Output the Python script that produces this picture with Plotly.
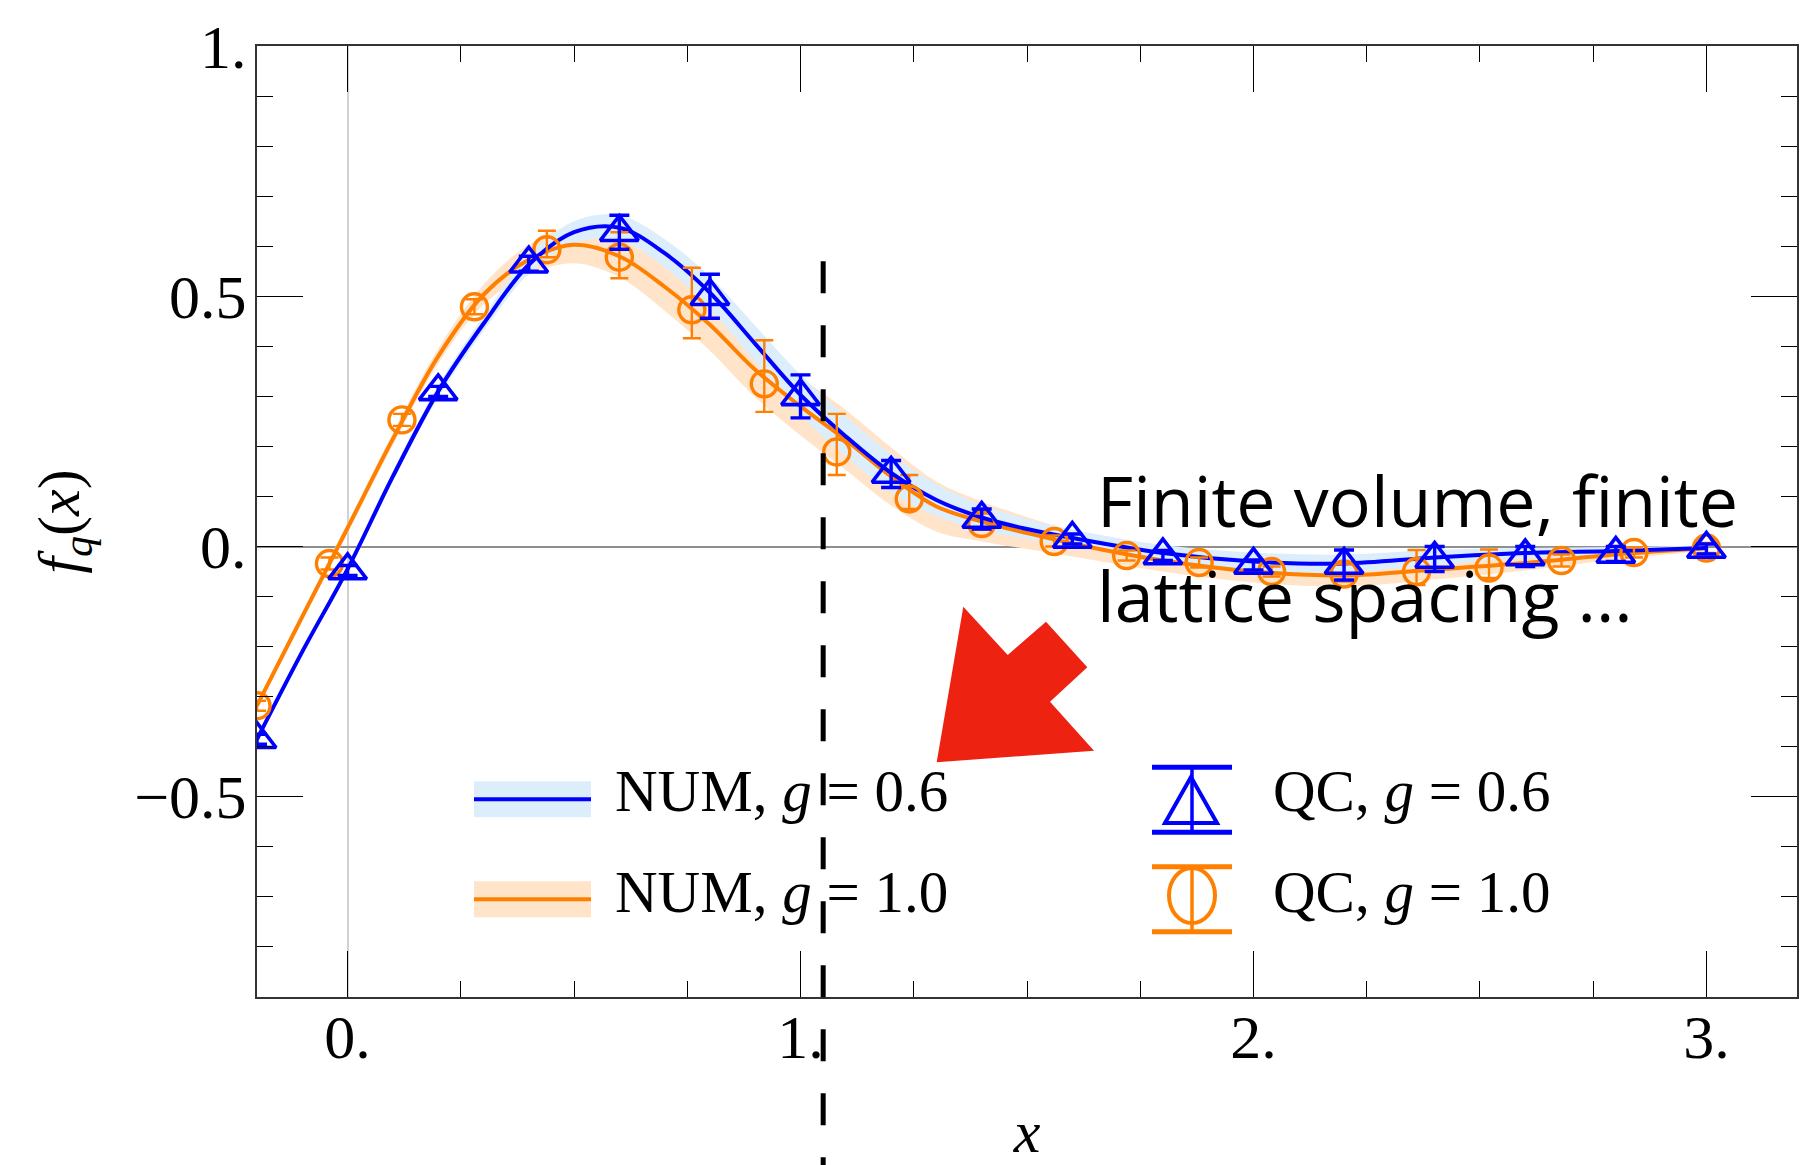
import plotly.graph_objects as go

# ---------------- data ----------------
# NUM curves (numerical result) with uncertainty bands
num_x = [-0.2, -0.1, 0.0, 0.1, 0.2, 0.3, 0.4, 0.5, 0.6, 0.7, 0.8, 0.9, 1.0, 1.1, 1.2, 1.3,
         1.4, 1.5, 1.6, 1.8, 2.0, 2.2, 2.4, 2.6, 2.8, 3.0]
num06_y = [-0.385, -0.21, -0.045, 0.14, 0.31, 0.445, 0.563, 0.628, 0.637, 0.586, 0.507, 0.405,
           0.303, 0.22, 0.147, 0.093, 0.058, 0.035, 0.017, -0.013, -0.03, -0.034, -0.022,
           -0.013, -0.009, -0.003]
num06_hw = [0.005, 0.006, 0.008, 0.01, 0.012, 0.015, 0.018, 0.022, 0.025, 0.028, 0.032, 0.036,
            0.04, 0.04, 0.038, 0.032, 0.025, 0.02, 0.017, 0.016, 0.018, 0.018, 0.015, 0.01,
            0.008, 0.005]
num10_y = [-0.318, -0.14, 0.037, 0.215, 0.38, 0.503, 0.573, 0.603, 0.58, 0.519, 0.443, 0.353,
           0.28, 0.213, 0.14, 0.08, 0.05, 0.027, 0.006, -0.028, -0.05, -0.058, -0.046,
           -0.033, -0.016, -0.003]
num10_hw = [0.008, 0.009, 0.01, 0.012, 0.015, 0.02, 0.03, 0.037, 0.042, 0.048, 0.052, 0.055,
            0.058, 0.06, 0.058, 0.05, 0.04, 0.032, 0.026, 0.022, 0.022, 0.022, 0.02, 0.015,
            0.01, 0.006]

# QC points, g = 0.6
qc06_x = [-0.2, 0.0, 0.2, 0.4, 0.6, 0.8, 1.0, 1.2, 1.4, 1.6, 1.8, 2.0, 2.2, 2.4, 2.6, 2.8, 3.0]
qc06_y = [-0.385, -0.048, 0.31, 0.565, 0.628, 0.50, 0.30, 0.145, 0.055, 0.015, -0.018, -0.037,
          -0.037, -0.025, -0.02, -0.015, -0.005]
qc06_err = [0.01, 0.01, 0.01, 0.015, 0.034, 0.044, 0.043, 0.027, 0.02, 0.01, 0.01, 0.01, 0.03,
            0.025, 0.02, 0.015, 0.01]

# QC points, g = 1.0
qc10_x = [-0.2, -0.04, 0.12, 0.28, 0.44, 0.6, 0.76, 0.92, 1.08, 1.24, 1.4, 1.56, 1.72, 1.88,
          2.04, 2.2, 2.36, 2.52, 2.68, 2.84, 3.0]
qc10_y = [-0.318, -0.034, 0.253, 0.479, 0.593, 0.578, 0.473, 0.325, 0.189, 0.095, 0.046, 0.010,
          -0.018, -0.032, -0.050, -0.055, -0.050, -0.043, -0.028, -0.012, -0.003]
qc10_err_plus = [0.01, 0.012, 0.012, 0.015, 0.038, 0.05, 0.084, 0.087, 0.076, 0.048, 0.02,
                 0.012, 0.01, 0.01, 0.01, 0.02, 0.043, 0.037, 0.012, 0.01, 0.01]
qc10_err_minus = [0.01, 0.012, 0.012, 0.015, 0.015, 0.042, 0.057, 0.056, 0.046, 0.02, 0.012,
                  0.01, 0.01, 0.01, 0.01, 0.015, 0.027, 0.02, 0.012, 0.01, 0.01]

# axes ticks
x_tickvals = [0, 1, 2, 3]
x_ticktext = ["0.", "1.", "2.", "3."]
y_tickvals = [-0.5, 0, 0.5, 1.0]
y_ticktext = ["\u22120.5", "0.", "0.5", "1."]

legend_labels = ["NUM, <i>g</i> = 0.6", "NUM, <i>g</i> = 1.0",
                 "QC, <i>g</i> = 0.6", "QC, <i>g</i> = 1.0"]
note_lines = ["Finite volume, finite", "lattice spacing ..."]
cut_x = 1.05      # dashed vertical marker
cut_top = 0.57

# ---------------- styling ----------------
BLUE = "#0000FF"
ORANGE = "#FF8000"
BLUE_BAND = "#DCEDFC"
ORANGE_BAND = "#FFE4CA"
SERIF = "Liberation Serif"

OFF = 8                      # page body margin in the browser
WIN_W, WIN_H = 1808, 1165
W, H = WIN_W - OFF, WIN_H - OFF
# plot area in window pixels
L, R, T, B = 257, 1797, 46, 997
ML, MT = L - OFF, T - OFF
MR, MB = (OFF + W) - R, (OFF + H) - B
XR = [-0.2, 3.2]
YR = [-0.9, 1.0]


def px(xp):
    return (xp - L) / (R - L)


def py(yp):
    return (B - yp) / (B - T)


fig = go.Figure()

# bands
o_lo = [c - h for c, h in zip(num10_y, num10_hw)]
o_hi = [c + h for c, h in zip(num10_y, num10_hw)]
b_lo = [c - h for c, h in zip(num06_y, num06_hw)]
b_hi = [c + h for c, h in zip(num06_y, num06_hw)]

fig.add_trace(go.Scatter(x=num_x, y=o_lo, mode="lines", line=dict(width=0, shape="spline"),
                         showlegend=False, hoverinfo="skip"))
fig.add_trace(go.Scatter(x=num_x, y=o_hi, mode="lines", line=dict(width=0, shape="spline"),
                         fill="tonexty", fillcolor=ORANGE_BAND, showlegend=False, hoverinfo="skip"))
fig.add_trace(go.Scatter(x=num_x, y=b_lo, mode="lines", line=dict(width=0, shape="spline"),
                         showlegend=False, hoverinfo="skip"))
fig.add_trace(go.Scatter(x=num_x, y=b_hi, mode="lines", line=dict(width=0, shape="spline"),
                         fill="tonexty", fillcolor=BLUE_BAND, showlegend=False, hoverinfo="skip"))

# central lines
fig.add_trace(go.Scatter(x=num_x, y=num10_y, mode="lines", name="NUM, g = 1.0",
                         line=dict(color=ORANGE, width=4, shape="spline"), showlegend=False))
fig.add_trace(go.Scatter(x=num_x, y=num06_y, mode="lines", name="NUM, g = 0.6",
                         line=dict(color=BLUE, width=4, shape="spline"), showlegend=False))

# QC points
fig.add_trace(go.Scatter(
    x=qc10_x, y=qc10_y, mode="markers", name="QC, g = 1.0", showlegend=False,
    marker=dict(symbol="circle-open", size=26, color=ORANGE, line=dict(width=3.4, color=ORANGE)),
    error_y=dict(type="data", symmetric=False, array=qc10_err_plus, arrayminus=qc10_err_minus,
                 color=ORANGE, thickness=2.4, width=9)))
fig.add_trace(go.Scatter(
    x=qc06_x, y=qc06_y, mode="markers", name="QC, g = 0.6", showlegend=False,
    marker=dict(symbol="triangle-up-open", size=33, color=BLUE, line=dict(width=3.6, color=BLUE)),
    error_y=dict(type="data", array=qc06_err, color=BLUE, thickness=3.4, width=10)))

shapes = []
# dashed vertical marker line (extends below the frame)
xc = (cut_x - XR[0]) / (XR[1] - XR[0])
yc = (cut_top - YR[0]) / (YR[1] - YR[0])
shapes.append(dict(type="line", xref="paper", yref="paper", x0=xc, x1=xc, y0=yc, y1=py(WIN_H + 5),
                   line=dict(color="black", width=5, dash="32px,32px"), layer="above"))

# red arrow
arrow_px = [(936.7, 762.3), (963.3, 606.7), (1007.7, 655.0), (1046.0, 621.7),
            (1087.3, 667.3), (1050.0, 701.7), (1094.0, 750.7)]
path = "M " + " L ".join(f"{px(a):.5f},{py(b):.5f}" for a, b in arrow_px) + " Z"
shapes.append(dict(type="path", xref="paper", yref="paper", path=path,
                   fillcolor="#EE2211", line=dict(width=0), layer="above"))

# ---- hand-made legend ----
def band_swatch(yc_, band, col):
    shapes.append(dict(type="rect", xref="paper", yref="paper", x0=px(474), x1=px(591),
                       y0=py(yc_ + 18), y1=py(yc_ - 18), fillcolor=band, line=dict(width=0)))
    shapes.append(dict(type="line", xref="paper", yref="paper", x0=px(474), x1=px(591),
                       y0=py(yc_), y1=py(yc_), line=dict(color=col, width=4)))


band_swatch(799.3, BLUE_BAND, BLUE)
band_swatch(899.3, ORANGE_BAND, ORANGE)


def err_symbol(ytop, ybot, col):
    xm = 1192
    shapes.append(dict(type="line", xref="paper", yref="paper", x0=px(xm), x1=px(xm),
                       y0=py(ytop), y1=py(ybot), line=dict(color=col, width=3.5)))
    for yy in (ytop, ybot):
        shapes.append(dict(type="line", xref="paper", yref="paper", x0=px(xm - 40), x1=px(xm + 40),
                           y0=py(yy), y1=py(yy), line=dict(color=col, width=5)))


err_symbol(767.3, 832.3, BLUE)
tri = [(1165, 823), (1217, 823), (1191, 777)]
shapes.append(dict(type="path", xref="paper", yref="paper",
                   path="M " + " L ".join(f"{px(a):.5f},{py(b):.5f}" for a, b in tri) + " Z",
                   line=dict(color=BLUE, width=4)))
err_symbol(866.7, 931.7, ORANGE)
shapes.append(dict(type="circle", xref="paper", yref="paper", x0=px(1169), x1=px(1215),
                   y0=py(923), y1=py(868), line=dict(color=ORANGE, width=4)))

annotations = []
leg_pos = [(614, 757), (614, 858), (1272, 757), (1272, 858)]
for txt, (xx, yy) in zip(legend_labels, leg_pos):
    annotations.append(dict(text=txt, xref="paper", yref="paper", x=px(xx), y=py(yy),
                            xanchor="left", yanchor="top", showarrow=False, borderpad=0,
                            font=dict(family=SERIF, size=59, color="black")))

for txt, yy in zip(note_lines, [451, 546]):
    annotations.append(dict(text=txt, xref="paper", yref="paper", x=px(1096), y=py(yy),
                            xanchor="left", yanchor="top", showarrow=False, borderpad=0,
                            font=dict(family="Open Sans", size=70, color="black")))

axis_common = dict(showline=True, linecolor="#333333", linewidth=2, mirror="ticks",
                   ticks="inside", ticklen=46, tickwidth=1.3, tickcolor="black",
                   showgrid=False, automargin=False,
                   tickfont=dict(family=SERIF, size=62, color="black"))

fig.update_layout(
    width=W, height=H,
    margin=dict(l=ML, r=MR, t=MT, b=MB, autoexpand=False),
    paper_bgcolor="white", plot_bgcolor="white",
    showlegend=False,
    shapes=shapes, annotations=annotations,
    xaxis=dict(range=XR, tickmode="array", tickvals=x_tickvals, ticktext=x_ticktext,
               zeroline=True, zerolinecolor="#d2d2d2", zerolinewidth=1.5,
               minor=dict(dtick=0.25, tick0=0, ticks="inside", ticklen=16, tickwidth=1.3,
                          tickcolor="black"),
               ticklabelstandoff=-15,
               title=dict(text="<i>x</i>", font=dict(family=SERIF, size=60, color="black"),
                          standoff=79),
               **axis_common),
    yaxis=dict(range=YR, tickmode="array", tickvals=y_tickvals, ticktext=y_ticktext,
               zeroline=True, zerolinecolor="#8f8f8f", zerolinewidth=2,
               minor=dict(dtick=0.1, tick0=0, ticks="inside", ticklen=16, tickwidth=1.3,
                          tickcolor="black"),
               ticklabelstandoff=-4,
               title=dict(text="<i>f</i><sub><i>q</i></sub>(<i>x</i>)",
                          font=dict(family=SERIF, size=60, color="black"), standoff=35),
               **axis_common),
)

fig.write_html("out.html")
